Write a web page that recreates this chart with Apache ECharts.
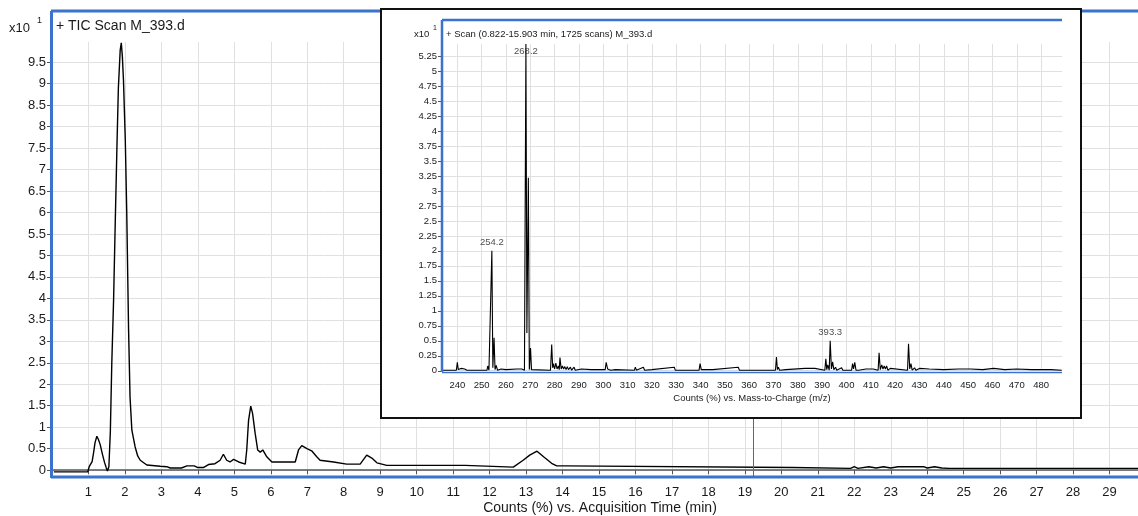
<!DOCTYPE html>
<html>
<head>
<meta charset="utf-8">
<script src="https://cdn.jsdelivr.net/npm/echarts@6/dist/echarts.min.js"></script>
<style>
  html, body { margin: 0; padding: 0; background: #fff; }
  #chart { width: 1138px; height: 516px; }
</style>
</head>
<body>
<div id="chart"></div>
<script>
// TIC trace: counts (x10^1) vs acquisition time (min)
const ticTime = [0.05, 0.98, 1.02, 1.06, 1.1, 1.14, 1.18, 1.23, 1.27, 1.32, 1.38, 1.44, 1.49, 1.52, 1.56,
  1.6, 1.64, 1.69, 1.73, 1.78, 1.82, 1.87, 1.9, 1.93, 1.96, 2.01, 2.05, 2.1, 2.14, 2.19, 2.28, 2.35, 2.42,
  2.6, 2.97, 3.15, 3.24, 3.45, 3.5, 3.55, 3.7, 3.9, 4.0, 4.15, 4.29, 4.47, 4.61, 4.7, 4.79, 4.88, 4.98,
  5.12, 5.3, 5.34, 5.39, 5.45, 5.5, 5.57, 5.64, 5.71, 5.78, 5.89, 6.03, 6.67, 6.76, 6.85, 6.99, 7.12,
  7.26, 7.35, 7.72, 8.08, 8.45, 8.63, 8.77, 8.91, 9.18, 11.33, 11.38, 12.65, 12.7, 12.92, 13.1, 13.3,
  13.48, 13.7, 13.84, 14.07, 14.11, 20.3, 21.9, 22.0, 22.1, 22.4, 22.6, 22.8, 23.0, 23.2, 23.9, 24.0,
  24.2, 24.4, 24.6, 29.8];
const ticCounts = [-0.04, -0.04, 0.08, 0.14, 0.2, 0.4, 0.64, 0.79, 0.72, 0.6, 0.38, 0.18, 0.05, -0.02, 0.08,
  0.9, 2.5, 4.0, 5.6, 7.5, 8.9, 9.78, 9.95, 9.62, 9.08, 7.68, 5.98, 3.26, 1.7, 0.93, 0.54, 0.33, 0.23,
  0.12, 0.09, 0.08, 0.05, 0.05, 0.07, 0.05, 0.1, 0.1, 0.06, 0.06, 0.13, 0.15, 0.23, 0.37, 0.23, 0.19, 0.25,
  0.19, 0.14, 0.47, 1.16, 1.49, 1.32, 0.86, 0.47, 0.42, 0.47, 0.31, 0.19, 0.19, 0.47, 0.57, 0.5, 0.45,
  0.31, 0.23, 0.19, 0.14, 0.14, 0.35, 0.28, 0.17, 0.11, 0.11, 0.07, 0.07, 0.1, 0.23, 0.35, 0.44,
  0.31, 0.16, 0.1, 0.1, 0.06, 0.06, 0.04, 0.08, 0.04, 0.08, 0.05, 0.08, 0.05, 0.08, 0.08, 0.05,
  0.08, 0.05, 0.04, 0.04];
const cursorTime = 19.23;

// inset spectrum: counts (x10^1) vs m/z
const specMz = [234, 239.6, 240, 240.4, 241.5, 242, 243, 244, 252.2, 252.5, 253, 253.8, 254.2, 254.6, 255.1,
  255.5, 256, 256.5, 258, 258.5, 260, 264.5, 266.5, 267.6, 268.2, 268.6, 269.2, 269.6, 270.1, 270.5, 271,
  278.3, 278.8, 279.2, 279.5, 280, 280.5, 281, 281.5, 281.9, 282.2, 282.7, 283.2, 283.7, 284.2, 284.7,
  285.2, 285.7, 286.5, 287, 288, 288.5, 291, 295, 298, 300.8, 301.2, 301.8, 302.5, 303, 305, 312.8, 313.2,
  313.6, 316.5, 317, 320, 329.2, 329.6, 339.4, 339.8, 340.3, 341, 345, 355.5, 356, 370.8, 371.2, 371.6,
  372, 372.5, 375, 383, 383.5, 387, 387.5, 391.1, 391.5, 391.9, 392.3, 392.9, 393.3, 393.8, 394.3, 394.8,
  395.5, 396, 398, 398.5, 402.1, 402.5, 402.9, 403.4, 403.9, 404.5, 405, 408, 411, 413, 413.4, 413.9,
  414.5, 415, 415.5, 416, 416.5, 417, 418, 418.5, 425.1, 425.5, 426, 426.5, 427, 428, 428.5, 430, 434,
  440, 446, 451, 456, 460.5, 461, 465, 470, 476, 484, 488.5];
const specAbund = [0.01, 0.01, 0.14, 0.02, 0.04, 0.01, 0.03, 0.01, 0.01, 0.08, 0.01, 0.02, 2.0, 0.05, 0.55,
  0.02, 0.09, 0.01, 0.03, 0.01, 0.02, 0.03, 0.03, 0.01, 5.45, 0.63, 3.22, 0.02, 0.38, 0.02, 0.05,
  0.01, 0.44, 0.05, 0.12, 0.03, 0.13, 0.03, 0.08, 0.02, 0.22, 0.03, 0.08, 0.03, 0.07, 0.02,
  0.07, 0.02, 0.06, 0.01, 0.06, 0.01, 0.03, 0.02, 0.02, 0.02, 0.14, 0.03, 0.05, 0.01, 0.02, 0.01, 0.06,
  0.01, 0.06, 0.01, 0.02, 0.06, 0.01, 0.01, 0.12, 0.02, 0.03, 0.02, 0.06, 0.01, 0.01, 0.23, 0.02,
  0.06, 0.01, 0.02, 0.04, 0.01, 0.04, 0.01, 0.01, 0.2, 0.02, 0.1, 0.01, 0.5, 0.03, 0.15, 0.02,
  0.06, 0.01, 0.05, 0.01, 0.01, 0.12, 0.03, 0.14, 0.01, 0.04, 0.01, 0.03, 0.03, 0.01, 0.3, 0.02,
  0.1, 0.03, 0.08, 0.03, 0.08, 0.01, 0.04, 0.01, 0.01, 0.45, 0.03, 0.12, 0.01, 0.05, 0.01, 0.04, 0.03,
  0.02, 0.03, 0.03, 0.02, 0.04, 0.01, 0.02, 0.03, 0.02, 0.02, 0.01];
const peakLabelMz = [254.2, 268.2, 393.3];
const peakLabelAbund = [2.0, 5.45, 0.5];

// tick labels
const timeTicks = [1, 2, 3, 4, 5, 6, 7, 8, 9, 10, 11, 12, 13, 14, 15, 16, 17, 18, 19, 20,
  21, 22, 23, 24, 25, 26, 27, 28, 29];
const countTicks = [0, 0.5, 1, 1.5, 2, 2.5, 3, 3.5, 4, 4.5, 5, 5.5, 6, 6.5, 7, 7.5, 8, 8.5, 9, 9.5];
const mzTicks = [240, 250, 260, 270, 280, 290, 300, 310, 320, 330, 340, 350, 360, 370, 380, 390,
  400, 410, 420, 430, 440, 450, 460, 470, 480];
const abundTicks = [0, 0.25, 0.5, 0.75, 1, 1.25, 1.5, 1.75, 2, 2.25, 2.5, 2.75, 3, 3.25, 3.5, 3.75,
  4, 4.25, 4.5, 4.75, 5, 5.25];

const FONT = "'Liberation Sans', Arial, sans-serif";
const BLUE = '#3b72cc';
const GRID = '#e0e0e0';
const INSET_MAX = 5.45;

const chart = echarts.init(document.getElementById('chart'));

const ticData = ticTime.map((t, i) => [t, ticCounts[i]]);
const specData = specMz.map((m, i) => [m, specAbund[i]]);
const labelData = peakLabelMz.map((m, i) => {
  const item = { value: [m, peakLabelAbund[i]] };
  // peak running off the top gets its label tucked just inside the frame
  if (peakLabelAbund[i] >= INSET_MAX) item.label = { position: 'inside', offset: [0, 7] };
  return item;
});

const blueLine = (x1, y1, x2, y2, z, w) => ({
  type: 'line', z: z, silent: true,
  shape: { x1, y1, x2, y2 },
  style: { stroke: BLUE, lineWidth: w || 3 }
});
const txt = (x, y, text, size, z, align) => ({
  type: 'text', x, y, z: z, silent: true,
  style: { text, font: size + 'px ' + FONT, fill: '#1a1a1a', textAlign: align || 'left', textVerticalAlign: 'middle' }
});

const option = {
  animation: false,
  grid: [
    { left: 52, right: 0, top: 42, bottom: 39 },
    { left: 442, right: 76, top: 44, bottom: 144 }
  ],
  xAxis: [
    {
      type: 'value', gridIndex: 0, min: 0, max: 29.78, offset: 3,
      axisLine: { lineStyle: { color: '#555', width: 1.5 } },
      axisTick: { customValues: timeTicks, length: 4, lineStyle: { color: '#555' } },
      axisLabel: { customValues: timeTicks, margin: 6, fontSize: 13, color: '#1a1a1a', fontFamily: FONT },
      splitLine: { lineStyle: { color: GRID } }
    },
    {
      type: 'value', gridIndex: 1, min: 233.7, max: 488.6, z: 11,
      axisLine: { show: false },
      axisTick: { show: false, customValues: mzTicks },
      axisLabel: { customValues: mzTicks, margin: 8, fontSize: 9.5, color: '#1a1a1a', fontFamily: FONT },
      splitLine: { lineStyle: { color: GRID } }
    }
  ],
  yAxis: [
    {
      type: 'value', gridIndex: 0, min: -0.16, max: 9.97,
      axisLine: { show: false },
      axisTick: { customValues: countTicks, length: 5, lineStyle: { color: '#555' } },
      axisLabel: { customValues: countTicks, margin: 6, fontSize: 13, color: '#1a1a1a', fontFamily: FONT },
      splitLine: { lineStyle: { color: GRID } }
    },
    {
      type: 'value', gridIndex: 1, min: -0.02, max: INSET_MAX, z: 11,
      axisLine: { show: false },
      axisTick: { customValues: abundTicks, length: 4, lineStyle: { color: '#555' } },
      axisLabel: { customValues: abundTicks, margin: 5, fontSize: 9.5, color: '#1a1a1a', fontFamily: FONT },
      splitLine: { lineStyle: { color: GRID } }
    }
  ],
  series: [
    {
      type: 'line', xAxisIndex: 0, yAxisIndex: 0, data: ticData, z: 2,
      showSymbol: false, clip: false,
      lineStyle: { color: '#000', width: 1.4 },
      markLine: {
        silent: true, symbol: 'none', label: { show: false },
        lineStyle: { color: '#666', type: 'solid', width: 1 },
        data: [{ xAxis: cursorTime }]
      }
    },
    {
      type: 'line', xAxisIndex: 1, yAxisIndex: 1, data: specData, z: 12,
      showSymbol: false,
      lineStyle: { color: '#000', width: 1.1 }
    },
    {
      type: 'scatter', xAxisIndex: 1, yAxisIndex: 1, data: labelData, z: 13,
      symbolSize: 0, clip: false,
      label: {
        show: true, position: 'top', distance: 3,
        fontSize: 9.5, color: '#1a1a1a', fontFamily: FONT,
        formatter: p => p.value[0].toFixed(1)
      }
    }
  ],
  graphic: [
    // main frame
    blueLine(51, 11, 1138, 11, 3),
    blueLine(51.5, 11, 51.5, 478, 3),
    blueLine(51, 477, 1138, 477, 3),
    txt(9, 28, 'x10', 13, 3),
    txt(37, 21, '1', 9, 3),
    txt(56, 26, '+ TIC Scan M_393.d', 14, 3),
    txt(600, 508, 'Counts (%) vs. Acquisition Time (min)', 14, 3, 'center'),
    // inset box
    {
      type: 'rect', z: 10, silent: true,
      shape: { x: 381, y: 9, width: 700, height: 409 },
      style: { fill: '#fff', stroke: '#111', lineWidth: 2 }
    },
    blueLine(442, 20, 1062, 20, 14, 2.5),
    blueLine(442, 20, 442, 372, 14, 2.5),
    blueLine(442, 372, 1062, 372, 11, 2.5),
    txt(414, 34, 'x10', 9.5, 14),
    txt(433, 28, '1', 7, 14),
    txt(446, 34, '+ Scan (0.822-15.903 min, 1725 scans) M_393.d', 9.5, 14),
    txt(752, 398, 'Counts (%) vs. Mass-to-Charge (m/z)', 9.5, 14, 'center')
  ]
};

chart.setOption(option);
</script>
</body>
</html>
